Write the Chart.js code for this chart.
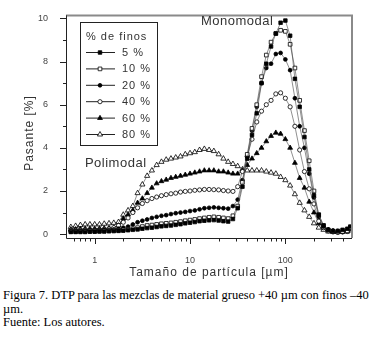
<!DOCTYPE html>
<html>
<head>
<meta charset="utf-8">
<script src="https://cdn.jsdelivr.net/npm/chart.js@4.4.0/dist/chart.umd.min.js"></script>
<style>
  html, body { margin: 0; padding: 0; background: #fff; }
  #wrap { position: relative; width: 376px; height: 342px; overflow: hidden; }
  #c { position: absolute; left: 0; top: 0; }
  #caption { position: absolute; left: 3px; top: 289px; width: 373px;
    font-family: "Liberation Serif", "Times New Roman", serif; font-size: 12.5px;
    line-height: 13.5px; color: #000; }
</style>
</head>
<body>
<div id="wrap">
  <canvas id="c" width="376" height="282"></canvas>
  <div id="caption">Figura 7. DTP para las mezclas de material grueso +40 µm con finos –40 µm.<br>Fuente: Los autores.</div>
</div>
<script>
// Particle size [µm]
const sizes = [0.562,0.631,0.708,0.794,0.891,1.0,1.122,1.259,1.413,1.585,
  1.778,1.995,2.239,2.512,2.818,3.162,3.548,3.981,4.467,5.012,
  5.623,6.310,7.079,7.943,8.913,10.0,11.22,12.59,14.13,15.85,
  17.78,19.95,22.39,25.12,28.18,31.62,35.48,39.81,44.67,50.12,
  56.23,63.10,70.79,79.43,89.13,100.0,112.2,125.9,141.3,158.5,
  177.8,199.5,223.9,251.2,281.8,316.2,354.8,398.1,446.7,480.0];

const fino5 = [0.10,0.10,0.10,0.10,0.11,0.11,0.12,0.12,0.13,0.14,
  0.15,0.16,0.18,0.20,0.22,0.25,0.28,0.30,0.33,0.36,
  0.38,0.40,0.43,0.46,0.50,0.53,0.56,0.60,0.62,0.64,
  0.65,0.63,0.60,0.58,0.70,1.20,2.20,3.50,4.60,5.60,
  7.00,7.90,8.70,9.30,9.80,9.90,9.20,7.20,5.90,4.50,
  3.00,1.80,0.90,0.40,0.20,0.15,0.15,0.20,0.25,0.35];
const fino10 = [0.12,0.12,0.13,0.13,0.14,0.14,0.14,0.15,0.16,0.17,
  0.18,0.20,0.22,0.25,0.30,0.35,0.40,0.42,0.45,0.48,
  0.50,0.52,0.55,0.58,0.62,0.65,0.68,0.72,0.75,0.78,
  0.80,0.78,0.75,0.72,0.85,1.30,2.40,3.70,4.90,6.00,
  7.30,8.30,8.90,9.30,9.45,9.40,8.80,7.70,6.20,4.80,
  3.40,2.00,0.90,0.40,0.20,0.12,0.10,0.12,0.15,0.30];
const fino20 = [0.15,0.15,0.16,0.17,0.18,0.18,0.18,0.19,0.20,0.22,
  0.25,0.30,0.35,0.45,0.55,0.62,0.68,0.75,0.80,0.85,
  0.88,0.93,0.97,1.00,1.03,1.07,1.10,1.15,1.20,1.22,
  1.24,1.22,1.20,1.18,1.30,1.60,2.50,3.60,4.80,5.90,
  7.00,7.70,7.90,8.35,8.40,8.10,7.60,6.30,5.00,4.00,
  2.80,1.70,0.80,0.35,0.20,0.12,0.10,0.10,0.15,0.25];
const fino40 = [0.18,0.18,0.19,0.20,0.20,0.20,0.21,0.22,0.25,0.30,
  0.40,0.55,0.75,1.00,1.22,1.42,1.55,1.65,1.72,1.78,
  1.83,1.87,1.90,1.95,1.98,2.00,2.03,2.05,2.07,2.07,
  2.06,2.05,2.02,2.00,1.98,2.20,2.90,3.60,4.40,5.20,
  5.70,6.00,6.20,6.50,6.55,6.30,5.90,5.00,3.90,2.90,
  2.10,1.40,0.60,0.30,0.15,0.10,0.08,0.10,0.12,0.20];
const fino60 = [0.22,0.22,0.24,0.25,0.25,0.25,0.26,0.27,0.28,0.30,
  0.40,0.72,0.90,1.10,1.45,1.65,1.90,2.15,2.35,2.45,
  2.52,2.60,2.65,2.70,2.75,2.80,2.85,2.90,2.95,2.95,
  2.95,2.90,2.90,2.85,2.80,2.80,2.95,3.20,3.50,3.75,
  4.00,4.30,4.55,4.70,4.65,4.40,4.00,3.30,2.60,2.15,
  1.50,1.00,0.50,0.30,0.20,0.15,0.12,0.12,0.15,0.25];
const fino80 = [0.33,0.38,0.42,0.45,0.45,0.45,0.45,0.48,0.50,0.52,
  0.56,0.90,1.10,1.30,1.90,2.30,2.70,2.95,3.20,3.35,
  3.45,3.50,3.55,3.60,3.70,3.75,3.80,3.90,3.95,3.90,
  3.85,3.70,3.50,3.35,3.25,3.15,3.00,2.95,2.95,2.95,
  2.95,2.90,2.85,2.80,2.65,2.50,2.25,1.85,1.45,1.10,
  0.80,0.50,0.30,0.20,0.12,0.10,0.10,0.12,0.12,0.20];

const seriesLabels = ["5 %", "10 %", "20 %", "40 %", "60 %", "80 %"];
const yTickValues = [0, 2, 4, 6, 8, 10];
const yMinorValues = [1, 3, 5, 7, 9];
const xTickValues = [1, 10, 100];
const xMinorValues = [0.6,0.7,0.8,0.9,2,3,4,5,6,7,8,9,20,30,40,50,60,70,80,90,200,300,400];

const legendTitle = "% de finos";
const xTitle = "Tamaño de partícula [µm]";
const yTitle = "Pasante [%]";
const annotations = [
  { text: "Monomodal", x: 13, y: 9.85 },
  { text: "Polimodal", x: 0.79, y: 3.26 }
];

const allSeries = [fino5, fino10, fino20, fino40, fino60, fino80];
const styles = [
  { ps: 'rect', r: 2.5, fill: '#000' },
  { ps: 'rect', r: 2.6, fill: '#fff' },
  { ps: 'circle', r: 1.9, fill: '#000' },
  { ps: 'circle', r: 2.1, fill: '#fff' },
  { ps: 'triangle', r: 2.8, fill: '#000' },
  { ps: 'triangle', r: 3.0, fill: '#fff' }
];

const datasets = allSeries.map((vals, k) => ({
  label: seriesLabels[k],
  data: vals.map((v, i) => ({ x: sizes[i], y: v })),
  borderColor: '#444',
  borderWidth: 0.6,
  pointStyle: styles[k].ps,
  pointRadius: styles[k].r,
  pointBackgroundColor: styles[k].fill,
  pointBorderColor: '#000',
  pointBorderWidth: 0.8,
  fill: false,
  tension: 0
}));

const decor = {
  id: 'decor',
  afterDraw(chart) {
    const ctx = chart.ctx, a = chart.chartArea;
    const xs = chart.scales.x, ys = chart.scales.y;
    ctx.save();
    ctx.strokeStyle = '#8a8a8a'; ctx.lineWidth = 2;
    ctx.beginPath(); ctx.moveTo(a.left, a.top); ctx.lineTo(a.right, a.top); ctx.lineTo(a.right, a.bottom); ctx.stroke();
    ctx.strokeStyle = '#222'; ctx.lineWidth = 1;
    ctx.beginPath(); ctx.moveTo(a.left + 0.5, a.top); ctx.lineTo(a.left + 0.5, a.bottom + 0.5); ctx.lineTo(a.right, a.bottom + 0.5); ctx.stroke();
    ctx.beginPath();
    yTickValues.forEach(v => { const y = Math.round(ys.getPixelForValue(v)) + 0.5; ctx.moveTo(a.left - 6, y); ctx.lineTo(a.left, y); });
    yMinorValues.forEach(v => { const y = Math.round(ys.getPixelForValue(v)) + 0.5; ctx.moveTo(a.left - 3, y); ctx.lineTo(a.left, y); });
    xTickValues.forEach(v => { const x = Math.round(xs.getPixelForValue(v)) + 0.5; ctx.moveTo(x, a.bottom); ctx.lineTo(x, a.bottom + 6); });
    xMinorValues.forEach(v => { const x = Math.round(xs.getPixelForValue(v)) + 0.5; ctx.moveTo(x, a.bottom); ctx.lineTo(x, a.bottom + 3.5); });
    ctx.stroke();

    ctx.fillStyle = '#333';
    ctx.letterSpacing = '0.5px';
    ctx.textBaseline = 'middle';
    ctx.font = '13px "Liberation Sans", Arial, sans-serif';
    ctx.textAlign = 'left';
    annotations.forEach(t => ctx.fillText(t.text, xs.getPixelForValue(t.x), ys.getPixelForValue(t.y)));
    ctx.font = '12px "Liberation Sans", Arial, sans-serif';
    ctx.letterSpacing = '1px';
    ctx.textAlign = 'center';
    ctx.fillText(xTitle, (a.left + a.right) / 2, 273);
    ctx.save();
    ctx.translate(30, 133); ctx.rotate(-Math.PI / 2);
    ctx.fillText(yTitle, 0, 0);
    ctx.restore();

    const bx = 80, by = 22, bw = 77, bh = 123;
    ctx.strokeStyle = '#222'; ctx.lineWidth = 1;
    ctx.strokeRect(bx + 0.5, by + 0.5, bw, bh);
    ctx.font = '11px "Liberation Sans", Arial, sans-serif';
    ctx.textAlign = 'left';
    ctx.fillText(legendTitle, 86, 37);
    chart.data.datasets.forEach((ds, k) => {
      const y = 52.5 + k * 16.4;
      ctx.strokeStyle = '#222'; ctx.lineWidth = 1;
      ctx.beginPath(); ctx.moveTo(86, y); ctx.lineTo(115, y); ctx.stroke();
      ctx.fillStyle = ds.pointBackgroundColor; ctx.strokeStyle = '#000'; ctx.lineWidth = 0.8;
      Chart.helpers.drawPoint(ctx, { pointStyle: ds.pointStyle, radius: ds.pointRadius, borderWidth: 0.8, rotation: 0 }, 100, y);
      ctx.fillStyle = '#333';
      ctx.fillText(ds.label, 122, y + 0.5);
    });
    ctx.restore();
  }
};

new Chart(document.getElementById('c'), {
  type: 'line',
  data: { datasets },
  options: {
    responsive: false,
    animation: false,
    layout: { padding: { left: 0, right: 24, top: 10, bottom: 14 } },
    plugins: { legend: { display: false }, tooltip: { enabled: false } },
    scales: {
      x: {
        type: 'logarithmic', min: 0.5, max: 500,
        grid: { display: false }, border: { display: false },
        afterBuildTicks: s => { s.ticks = xTickValues.map(v => ({ value: v })); },
        afterFit: s => { s.height = 30; },
        ticks: { padding: 9, color: '#444', autoSkip: false, maxRotation: 0,
          font: { size: 9, family: '"Liberation Sans", Arial, sans-serif' },
          callback: v => String(v) }
      },
      y: {
        type: 'linear', min: -0.18, max: 10.14,
        grid: { display: false }, border: { display: false },
        afterBuildTicks: s => { s.ticks = yTickValues.map(v => ({ value: v })); },
        afterFit: s => { s.width = 66; },
        ticks: { padding: 10, color: '#444',
          font: { size: 9, family: '"Liberation Sans", Arial, sans-serif' },
          callback: v => String(v) }
      }
    }
  },
  plugins: [decor]
});
</script>
</body>
</html>
